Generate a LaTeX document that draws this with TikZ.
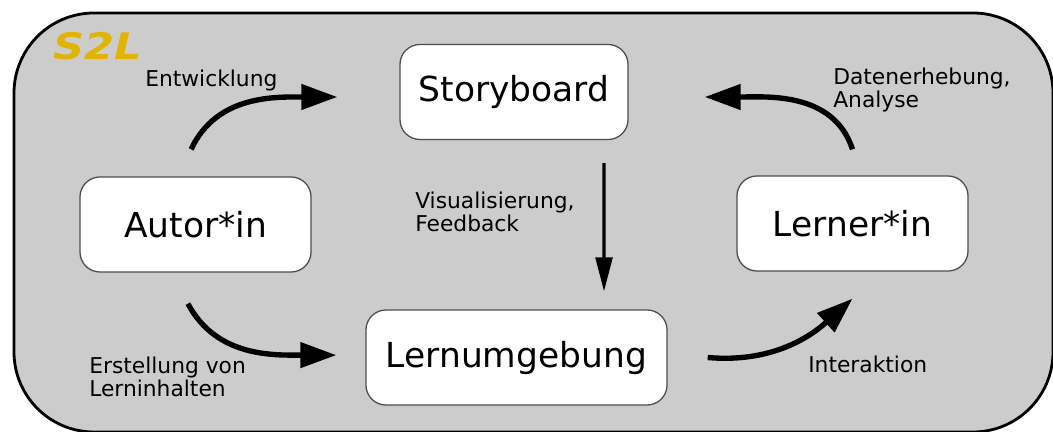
\documentclass[tikz,border=0pt]{standalone}
\usepackage{fontspec}
\setmainfont{DejaVu Sans}
\usetikzlibrary{arrows.meta}

\definecolor{panelgray}{RGB}{204,204,204}
\definecolor{s2lgold}{RGB}{224,180,0}

\tikzset{bb/.style={draw=black!70, line width=0.9pt, fill=white, rounded corners=0.5cm, minimum height=2.375cm, font=\fontsize{24.5}{29}\selectfont}}
\tikzset{lbl/.style={inner sep=0pt, align=left, font=\fontsize{15.5}{14.6}\selectfont}}
\tikzset{flow/.style={line width=3.8pt, -{Triangle[length=0.9cm, width=0.62cm]}}}

\begin{document}
\begin{tikzpicture}[x=0.025cm, y=-0.025cm]
    \useasboundingbox (0,0) rectangle (1053,432);
    \draw[line width=2pt, fill=panelgray, rounded corners=2cm] (14,13) rectangle (1053,432);
    
    \node[anchor=base west, inner sep=0pt, text=s2lgold, font=\fontsize{26}{30}\selectfont\bfseries\itshape] (title) at (53,60) {\scalebox{1.18}[1]{S2L}};
    
    \node[bb, minimum width=5.7cm] (story) at (514,92) {Storyboard};
    \node[bb, minimum width=5.775cm] (autor) at (195.5,224.5) {Autor*in};
    \node[bb, minimum width=5.775cm] (lerner) at (852.5,223.5) {Lerner*in};
    \node[bb, minimum width=7.525cm] (lern) at (516.5,357.5) {Lernumgebung};
    
    \node[lbl, anchor=base west] (entw) at (145,87) {Entwicklung};
    \node[lbl, anchor=west] (daten) at (833,90) {Datenerhebung,\\Analyse};
    \node[lbl, anchor=west] (visu) at (415,212) {Visualisierung,\\Feedback};
    \node[lbl, anchor=west] (erst) at (89,377) {Erstellung von\\Lerninhalten};
    \node[lbl, anchor=base west] (inter) at (808,372) {Interaktion};
    
    \draw[flow] ([xshift=-0.11cm, yshift=0.675cm]autor.north) to[out=65, in=180] ([xshift=-1.55cm, yshift=-0.125cm]story.west);
    
    \draw[flow] ([xshift=-0.19cm, yshift=-0.775cm]autor.south) to[out=-62, in=180] ([xshift=-0.725cm, yshift=0.06cm]lern.west);
    
    \draw[flow] ([xshift=1.0cm]lern.east) to[out=-5, in=222] ([yshift=-0.675cm]lerner.south);
    
    \draw[flow] ([yshift=0.65cm]lerner.north) to[out=108, in=0] ([xshift=1.9cm, yshift=-0.125cm]story.east);
    
    \draw[line width=2.2pt, -{Triangle[length=0.85cm, width=0.42cm]}] ([xshift=2.25cm, yshift=-0.575cm]story.south) -- ([xshift=2.1875cm, yshift=0.45cm]lern.north);
    
\end{tikzpicture}
\end{document}
